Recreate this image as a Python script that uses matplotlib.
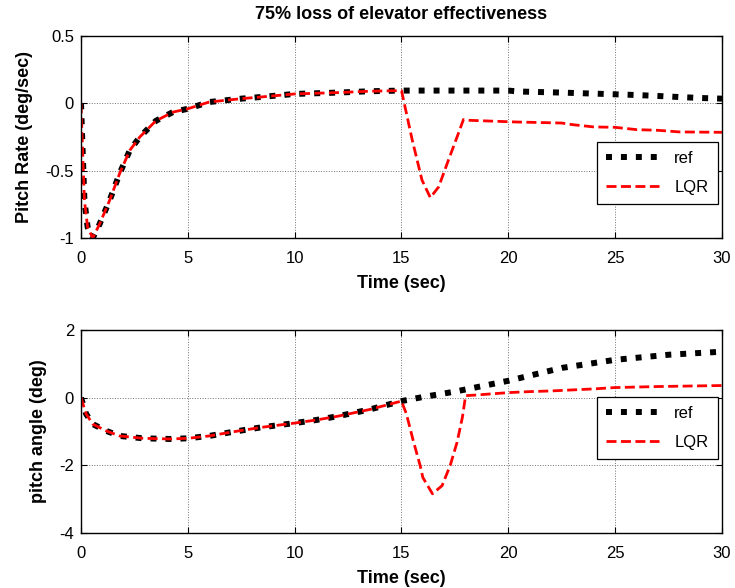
import matplotlib
matplotlib.use("Agg")
import matplotlib.pyplot as plt

plt.rcParams['font.family'] = ['Liberation Sans', 'DejaVu Sans']
plt.rcParams['axes.unicode_minus'] = False

# pitch rate (deg/sec), same for both up to t = 15
t_rate_common = [0, 0.08, 0.16, 0.31, 0.55, 0.86, 1.34, 1.81, 2.28, 2.75, 3.5, 4.3,
                 5, 6, 7.5, 8.4, 10, 12, 13.5, 15]
rate_common = [0, -0.37, -0.72, -0.92, -1.0, -0.9, -0.72, -0.52, -0.35, -0.25, -0.13,
               -0.065, -0.04, 0.01, 0.035, 0.047, 0.07, 0.08, 0.09, 0.095]
t_rate_ref = [16, 18, 20, 20.5, 22.5, 24.5, 26, 27, 28, 29, 30]
rate_ref = [0.095, 0.095, 0.095, 0.088, 0.08, 0.07, 0.062, 0.055, 0.047, 0.04, 0.035]
t_rate_lqr = [15.5, 15.96, 16.35, 16.74, 17.2, 17.6, 17.9, 18.2, 20.3, 22.5, 23, 24,
              25, 26, 27, 28, 30]
rate_lqr = [-0.27, -0.57, -0.70, -0.62, -0.42, -0.25, -0.12, -0.126, -0.138, -0.146,
            -0.158, -0.175, -0.178, -0.195, -0.2, -0.212, -0.215]

# pitch angle (deg)
t_ang_common = [0, 0.24, 0.55, 1.18, 1.8, 2.9, 4.2, 5, 6, 7.2, 8.4, 10, 11, 12, 13.5, 15]
ang_common = [0, -0.48, -0.78, -0.98, -1.13, -1.2, -1.22, -1.2, -1.13, -1.0, -0.88,
              -0.75, -0.66, -0.55, -0.35, -0.1]
t_ang_ref = [16, 17.5, 20, 22.5, 25, 27.5, 30]
ang_ref = [0.02, 0.18, 0.5, 0.88, 1.12, 1.27, 1.36]
t_ang_lqr = [15.23, 15.55, 15.87, 16.0, 16.45, 16.9, 17.28, 17.6, 17.85, 18.0, 18.5, 20,
             21, 22, 24, 25, 27, 30]
ang_lqr = [-0.48, -1.27, -2.0, -2.36, -2.84, -2.6, -2.0, -1.32, -0.58, 0.06, 0.08, 0.15,
           0.18, 0.2, 0.26, 0.3, 0.33, 0.36]


def style_axes(ax, ylim, yticks, ylabel):
    ax.set_xlim(0, 30)
    ax.set_ylim(*ylim)
    ax.set_xticks([0, 5, 10, 15, 20, 25, 30])
    ax.set_yticks(yticks)
    ax.grid(True, color='0.45', linestyle=':', linewidth=0.7)
    ax.tick_params(direction='in', length=4, top=True, right=True, labelsize=12,
                   width=0.8)
    ax.tick_params(axis='x', pad=9)
    ax.tick_params(axis='y', pad=5)
    for s in ax.spines.values():
        s.set_linewidth(1.0)
    ax.set_xlabel('Time (sec)', fontsize=13, fontweight='bold', labelpad=7)
    ax.set_ylabel(ylabel, fontsize=13, fontweight='bold', labelpad=9)


fig = plt.figure(figsize=(7.35, 5.88), dpi=100)
ax1 = fig.add_axes([0.1102, 0.5952, 0.8721, 0.3435])
ax2 = fig.add_axes([0.1102, 0.0935, 0.8721, 0.3452])

ref_kw = dict(color='black', linewidth=4.3, dashes=(1, 1.5), dash_capstyle='butt')
lqr_kw = dict(color='red', linewidth=2.0, dashes=(3.6, 1.6))

ax1.plot(t_rate_common + t_rate_ref, rate_common + rate_ref, label='ref', **ref_kw)
ax1.plot(t_rate_common + t_rate_lqr, rate_common + rate_lqr, label='LQR', **lqr_kw)
style_axes(ax1, (-1, 0.5), [-1, -0.5, 0, 0.5], 'Pitch Rate (deg/sec)')
ax1.set_yticklabels(['-1', '-0.5', '0', '0.5'])
ax1.set_title('75% loss of elevator effectiveness', fontsize=13, fontweight='bold', pad=12)

ax2.plot(t_ang_common + t_ang_ref, ang_common + ang_ref, label='ref', **ref_kw)
ax2.plot(t_ang_common + t_ang_lqr, ang_common + ang_lqr, label='LQR', **lqr_kw)
style_axes(ax2, (-4, 2), [-4, -2, 0, 2], 'pitch angle (deg)')

for ax, top in ((ax1, 0.475), (ax2, 0.67)):
    leg = ax.legend(loc='upper right', bbox_to_anchor=(0.993, top), fontsize=12,
                    fancybox=False, framealpha=1, edgecolor='black',
                    handlelength=3.2, handletextpad=0.9, borderpad=0.55,
                    labelspacing=0.8, borderaxespad=0)
    leg.get_frame().set_linewidth(0.9)

fig.savefig('out.png', dpi=100)
